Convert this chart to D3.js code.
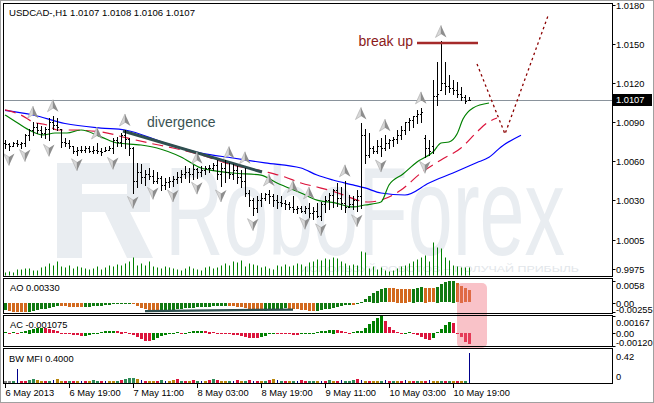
<!DOCTYPE html>
<html><head><meta charset="utf-8">
<script src="https://cdn.jsdelivr.net/npm/d3@7"></script>
<style>body{margin:0;background:#fff}svg{display:block}text{font-family:"Liberation Sans",Arial,sans-serif}</style>
</head><body><svg id="c" width="654" height="403"></svg>
<script>
// ---------------- DATA ----------------
const symbolTitle = "USDCAD-,H1  1.0107 1.0108 1.0106 1.0107";
const startTime = new Date(2013, 4, 6, 3, 0);
const highs = [1.0076,1.0074,1.0075,1.0076,1.0075,1.0081,1.0085,1.0090,1.0089,1.0087,1.0086,1.0093,1.0095,1.0093,1.0085,1.0078,1.0076,1.0072,1.0071,1.0072,
1.0072,1.0072,1.0072,1.0074,1.0070,1.0071,1.0072,1.0078,1.0079,1.0082,1.0084,1.0078,1.0071,1.0059,1.0058,1.0053,1.0055,1.0053,1.0052,1.0049,
1.0047,1.0048,1.0049,1.0052,1.0053,1.0056,1.0055,1.0057,1.0055,1.0056,1.0056,1.0057,1.0059,1.0061,1.0059,1.0061,1.0059,1.0058,1.0056,1.0053,
1.0055,1.0038,1.0032,1.0033,1.0036,1.0036,1.0038,1.0035,1.0034,1.0033,1.0030,1.0029,1.0033,1.0026,1.0026,1.0026,1.0028,1.0025,1.0028,1.0029,
1.0033,1.0036,1.0039,1.0043,1.0040,1.0045,1.0034,1.0033,1.0038,1.0089,1.0085,1.0082,1.0072,1.0076,1.0078,1.0080,1.0077,1.0079,1.0084,1.0087,
1.0090,1.0093,1.0095,1.0099,1.0101,1.0080,1.0076,1.0122,1.0136,1.0152,1.0136,1.0126,1.0122,1.0121,1.0117,1.0111,1.0109];
const lows = [1.0070,1.0069,1.0072,1.0072,1.0070,1.0072,1.0076,1.0080,1.0082,1.0079,1.0078,1.0076,1.0085,1.0084,1.0071,1.0072,1.0070,1.0066,1.0065,1.0067,
1.0067,1.0067,1.0066,1.0066,1.0065,1.0068,1.0069,1.0066,1.0072,1.0072,1.0070,1.0065,1.0036,1.0040,1.0043,1.0042,1.0046,1.0043,1.0043,1.0038,
1.0039,1.0040,1.0041,1.0043,1.0044,1.0047,1.0044,1.0046,1.0047,1.0049,1.0050,1.0052,1.0053,1.0046,1.0041,1.0044,1.0047,1.0046,1.0043,1.0040,
1.0033,1.0026,1.0019,1.0021,1.0026,1.0030,1.0028,1.0026,1.0024,1.0026,1.0023,1.0023,1.0021,1.0020,1.0021,1.0020,1.0017,1.0016,1.0017,1.0015,
1.0021,1.0023,1.0025,1.0026,1.0023,1.0021,1.0025,1.0023,1.0022,1.0024,1.0059,1.0063,1.0066,1.0066,1.0064,1.0069,1.0070,1.0072,1.0074,1.0077,
1.0081,1.0084,1.0086,1.0089,1.0090,1.0063,1.0065,1.0066,1.0103,1.0115,1.0112,1.0113,1.0112,1.0109,1.0107,1.0105,1.0107];
const opens = [1.0074,1.0073,1.0072,1.0074,1.0073,1.0074,1.0080,1.0084,1.0086,1.0084,1.0082,1.0085,1.0090,1.0088,1.0085,1.0075,1.0074,1.0072,1.0068,1.0069,
1.0069,1.0070,1.0068,1.0069,1.0068,1.0068,1.0069,1.0070,1.0076,1.0075,1.0080,1.0077,1.0070,1.0045,1.0052,1.0048,1.0050,1.0049,1.0045,1.0047,
1.0042,1.0044,1.0045,1.0046,1.0048,1.0050,1.0052,1.0050,1.0054,1.0052,1.0053,1.0055,1.0055,1.0057,1.0050,1.0055,1.0052,1.0050,1.0053,1.0048,
1.0045,1.0036,1.0030,1.0024,1.0030,1.0032,1.0035,1.0033,1.0030,1.0029,1.0028,1.0027,1.0025,1.0023,1.0024,1.0022,1.0024,1.0020,1.0022,1.0018,
1.0027,1.0030,1.0034,1.0038,1.0032,1.0028,1.0025,1.0027,1.0030,1.0033,1.0080,1.0065,1.0070,1.0068,1.0072,1.0070,1.0074,1.0076,1.0077,1.0080,
1.0084,1.0090,1.0092,1.0095,1.0096,1.0078,1.0070,1.0072,1.0110,1.0115,1.0120,1.0118,1.0116,1.0115,1.0112,1.0109,1.0107];
const closes = [1.0073,1.0072,1.0074,1.0073,1.0074,1.0080,1.0084,1.0086,1.0084,1.0082,1.0085,1.0090,1.0088,1.0086,1.0075,1.0074,1.0072,1.0068,1.0069,1.0069,
1.0070,1.0068,1.0069,1.0068,1.0067,1.0069,1.0070,1.0076,1.0075,1.0080,1.0077,1.0070,1.0045,1.0052,1.0048,1.0050,1.0049,1.0045,1.0047,1.0042,
1.0044,1.0045,1.0046,1.0048,1.0050,1.0052,1.0050,1.0054,1.0052,1.0053,1.0055,1.0055,1.0057,1.0050,1.0055,1.0052,1.0050,1.0053,1.0048,1.0045,
1.0036,1.0030,1.0024,1.0030,1.0032,1.0035,1.0033,1.0030,1.0029,1.0028,1.0027,1.0025,1.0023,1.0024,1.0022,1.0024,1.0020,1.0022,1.0018,1.0027,
1.0030,1.0034,1.0038,1.0032,1.0028,1.0025,1.0027,1.0030,1.0033,1.0080,1.0065,1.0070,1.0068,1.0072,1.0070,1.0074,1.0076,1.0077,1.0080,1.0084,
1.0090,1.0092,1.0095,1.0096,1.0098,1.0070,1.0068,1.0110,1.0112,1.0120,1.0118,1.0116,1.0115,1.0112,1.0109,1.0106,1.0107];
const volumes = [300,400,300,600,600,700,700,500,500,800,900,1200,1000,1400,900,800,1000,700,900,800,
700,600,700,900,600,800,1000,900,1100,1000,1200,1400,1800,1000,1200,1000,1400,900,800,700,
900,800,700,600,500,700,900,700,600,500,800,900,700,800,1000,1200,1000,1400,1300,1500,
900,1200,1100,1000,800,900,700,600,1000,900,1100,900,1000,1200,1100,900,1300,1400,1600,1500,
1700,1600,1800,1700,1400,1200,1000,1100,1000,2400,2300,700,900,600,800,500,400,500,700,900,
1000,1200,1400,1600,1800,2000,1400,3300,2800,2700,1800,1500,1000,900,800,800,800];
const currentPrice = 1.0107;
// Alligator lines, sampled [bar, price]
const jawLine = [[0,1.0099],[7,1.00955],[15,1.0089],[24,1.00855],[30,1.0084],[40,1.0074],[49,1.00663],[57,1.00625],[65,1.00587],[74,1.00548],[78,1.00494],[82,1.00456],[87,1.00418],[90,1.00395],[94,1.00356],[100,1.00341],[106,1.00433],[112,1.0051],[118,1.0059],[121,1.0063],[124,1.0071],[129,1.0080]];
const teethLine = [[0,1.00994],[4,1.00955],[7,1.00901],[10.5,1.00878],[13,1.0084],[16,1.0084],[24,1.00825],[30.5,1.00779],[36,1.0074],[42,1.00702],[49,1.00648],[57,1.00571],[65.5,1.00517],[70,1.00479],[74,1.00433],[78,1.00402],[82.5,1.00364],[86,1.00325],[88,1.00302],[91,1.00287],[94,1.00302],[99,1.00379],[104,1.0051],[109,1.0061],[114,1.00702],[118,1.00825],[120.5,1.00894],[123,1.00932]];
const lipsLine = [[0,1.00955],[2,1.00917],[6,1.0084],[9.5,1.00802],[12.5,1.00817],[15.5,1.00817],[19,1.0084],[24,1.00787],[28,1.0074],[34,1.00725],[38,1.00702],[44,1.00633],[49,1.00548],[57,1.0051],[64,1.00494],[68,1.00433],[74,1.00356],[78,1.00302],[82.5,1.0028],[87,1.00249],[90,1.00264],[94,1.00287],[96,1.00418],[99.5,1.00502],[103,1.00594],[107,1.00671],[109,1.0074],[111,1.00748],[113,1.00809],[114.5,1.00924],[117,1.01009],[121,1.01047]];
const upFractals = [7,12,23,30,48,56,60,66,72,76,85,89,95,104,109];
const downFractals = [1,5,11,18,27,32,37,42,48,54,62,75,79,88,94,105];
const divergenceLine = [[29.5,1.00832],[64.25,1.00517]];
const breakLevel = {from:103, to:118.25, price:1.01508};
const projection = [[118,1.01347],[125,1.00809],[135.75,1.01716]];
const priceTicks = [1.0180,1.0150,1.0120,1.0090,1.0060,1.0030,0.99995,0.9977];
const priceTickLabels = ["1.0180","1.0150","1.0120","1.0090","1.0060","1.0030","1.0005","0.9975"];
const timeTickBars = [0,16,32,48,64,80,96,112];
const timeTickLabels = ["6 May 2013","6 May 19:00","7 May 11:00","8 May 03:00","8 May 19:00","9 May 11:00","10 May 03:00","10 May 19:00"];
// Awesome oscillator
const ao = [-0.00186,-0.00211,-0.00229,-0.00242,-0.00248,-0.00254,-0.00242,-0.00223,-0.00198,-0.00174,-0.00149,-0.00124,-0.00099,-0.00081,-0.00087,-0.00093,-0.00099,-0.00105,-0.00112,-0.00118,
-0.00112,-0.00105,-0.00093,-0.00081,-0.00068,-0.00056,-0.00043,-0.00031,-0.00025,-0.00019,-0.00012,-0.00006,-0.00037,-0.00087,-0.00130,-0.00174,-0.00211,-0.00236,-0.00254,-0.00242,
-0.00223,-0.00205,-0.00186,-0.00167,-0.00155,-0.00143,-0.00130,-0.00124,-0.00118,-0.00112,-0.00105,-0.00099,-0.00093,-0.00087,-0.00081,-0.00074,-0.00081,-0.00093,-0.00105,-0.00118,
-0.00136,-0.00155,-0.00174,-0.00192,-0.00211,-0.00205,-0.00192,-0.00180,-0.00167,-0.00155,-0.00143,-0.00149,-0.00161,-0.00174,-0.00186,-0.00198,-0.00211,-0.00217,-0.00205,-0.00186,
-0.00167,-0.00149,-0.00124,-0.00099,-0.00074,-0.00056,-0.00043,-0.00050,-0.00037,0.00010,0.00090,0.00170,0.00260,0.00320,0.00360,0.00390,0.00385,0.00380,0.00375,0.00370,
0.00365,0.00360,0.00370,0.00390,0.00410,0.00400,0.00390,0.00380,0.00430,0.00490,0.00540,0.00570,0.00580,0.00520,0.00450,0.00390,0.00330];
const aoDivergence = [[35,-0.00229],[72,-0.00190]];
const aoTicks = [0.0058,0,-0.00255];
const aoTickLabels = ["0.0058","0.00","-0.00255"];
// Accelerator oscillator
const ac = [0.00012,0.00006,0.00012,0.00006,0.00012,0.00023,0.00035,0.00041,0.00046,0.00052,0.00046,0.00041,0.00029,0.00017,0.00006,-0.00006,-0.00012,-0.00017,-0.00023,-0.00029,
-0.00029,-0.00017,-0.00006,0.00006,0.00012,0.00017,0.00018,0.00023,0.00017,0.00016,0.00012,0.00006,-0.00015,-0.00040,-0.00060,-0.00075,-0.00080,-0.00070,-0.00050,-0.00030,
-0.00015,-0.00004,0.00006,0.00007,0.00000,0.00006,0.00012,0.00017,0.00023,0.00024,0.00017,0.00016,0.00012,0.00006,0.00000,-0.00006,-0.00012,-0.00017,-0.00023,-0.00029,
-0.00035,-0.00045,-0.00050,-0.00052,-0.00040,-0.00025,-0.00010,0.00000,-0.00006,-0.00012,-0.00013,-0.00014,-0.00017,-0.00018,-0.00012,-0.00006,0.00000,0.00006,0.00012,0.00017,
0.00023,0.00029,0.00035,0.00029,0.00023,0.00012,0.00006,0.00012,0.00017,0.00020,0.00050,0.00090,0.00120,0.00150,0.00165,0.00120,0.00060,0.00030,0.00010,-0.00010,
0.00000,0.00010,-0.00010,-0.00020,-0.00040,-0.00060,-0.00070,-0.00050,0.00010,0.00040,0.00080,0.00110,0.00100,0.00000,-0.00040,-0.00090,-0.001075];
const acTicks = [0.00167,0,-0.00120];
const acTickLabels = ["0.00167","0.00","-0.00120"];
// BW Market Facilitation Index
const mfi = [0.03,0.02,0.02,0.18,0.02,0.03,0.04,0.05,0.04,0.03,0.02,0.03,0.04,0.05,0.02,0.02,0.03,0.02,0.02,0.03,
0.02,0.03,0.04,0.02,0.02,0.03,0.02,0.03,0.02,0.04,0.05,0.06,0.07,0.05,0.04,0.03,0.02,0.03,0.02,0.04,
0.02,0.03,0.04,0.05,0.03,0.02,0.03,0.04,0.02,0.03,0.02,0.04,0.05,0.04,0.03,0.02,0.02,0.03,0.04,0.02,
0.03,0.04,0.03,0.02,0.02,0.03,0.04,0.05,0.04,0.03,0.02,0.03,0.02,0.03,0.04,0.02,0.03,0.02,0.03,0.02,
0.03,0.04,0.02,0.03,0.04,0.03,0.02,0.04,0.05,0.04,0.03,0.02,0.03,0.02,0.03,0.04,0.02,0.03,0.02,0.03,
0.04,0.03,0.02,0.03,0.02,0.03,0.04,0.02,0.03,0.02,0.03,0.02,0.03,0.02,0.03,0.02,0.40];
// x gray, g green, f fade(brown), s squat(pink), b fake(blue)
const mfiType = ("xxgbssggff"+"sgbffsgsfb"+"sfggsbffgs"+"gggfbsffsg"+"bffsgsfsgb"+"fsgsffgbsf"+
  "gsbsfgsfbg"+"sfgbssggfb"+"sgfsbgggsb"+"fsffgbsgfs"+"bfsgfsbffg"+"sgfsfgb").split("");
const mfiTicks = [0.42,0];
const mfiTickLabels = ["0.42","0"];
const aoLabel = "AO 0.00330", acLabel = "AC -0.001075", mfiLabel = "BW MFI 0.4000";

// ---------------- LAYOUT ----------------
const svg = d3.select("#c");
const PL = 3.5, PR = 612.5;
const panels = {main:[3.5,276.5], ao:[278.5,313.5], ac:[315.5,346.5], mfi:[348.5,383.5]};
const x = d3.scaleLinear().domain([0,151.75]).range([5,612]);
const xp = i => Math.round(x(i)) + 0.5;
const y = d3.scaleLinear().domain([0.99719,1.01815]).range([276,3]);
const yVol = d3.scaleLinear().domain([0,3500]).range([275.5,240.5]);
const yAO = d3.scaleLinear().domain([-0.00255,0.0058]).range([312,281]);
const yAC = d3.scaleLinear().domain([-0.0012,0.00167]).range([345.5,316]);
const yMFI = d3.scaleLinear().domain([0,0.42]).range([383,351]);
const n = highs.length;
const times = d3.range(n).map(i => d3.timeHour.offset(startTime, i));
const FS = 9.3;

svg.append("rect").attr("width",654).attr("height",403).attr("fill","#fff");

const defs = svg.append("defs");
defs.append("clipPath").attr("id","mainClip").append("rect").attr("x",PL).attr("y",panels.main[0]).attr("width",PR-PL).attr("height",panels.main[1]-panels.main[0]);
const main = svg.append("g").attr("clip-path","url(#mainClip)");

// watermark
const wm = main.append("g").attr("fill","#e9edf1");
wm.append("path").attr("fill-rule","evenodd")
  .attr("d","M57,163 H150 V212 H130 L153,258 H127 L105,212 H82 V258 H57 Z M82,184 H127 V194 H82 Z");
wm.append("text").attr("transform","translate(165,255) scale(1,1.55)").attr("font-size",81).attr("textLength",400).attr("lengthAdjust","spacingAndGlyphs").text("RoboForex");
wm.append("text").attr("x",300).attr("y",272).attr("font-size",9).attr("fill","#e2e6ea").attr("textLength",279).attr("lengthAdjust","spacingAndGlyphs").text("ИСПОЛЬЗУЙ РОБОТОВ – ПОЛУЧАЙ ПРИБЫЛЬ");

// volumes
main.append("g").selectAll("line").data(volumes).join("line")
  .attr("x1",(d,i)=>xp(i)).attr("x2",(d,i)=>xp(i))
  .attr("y1",yVol(0)).attr("y2",d=>yVol(d)).attr("stroke","#008000");

// current price line
const cpy = Math.round(y(currentPrice))+0.5;
main.append("line").attr("x1",PL).attr("x2",PR).attr("y1",cpy).attr("y2",cpy).attr("stroke","#8a939c");

// alligator
const line = d3.line().x(d=>x(d[0])).y(d=>y(d[1])).curve(d3.curveMonotoneX);
main.append("path").attr("d",line(jawLine)).attr("fill","none").attr("stroke","#0000ff").attr("stroke-width",1.2);
main.append("path").attr("d",line(teethLine)).attr("fill","none").attr("stroke","#dc143c").attr("stroke-width",1.2).attr("stroke-dasharray","11,6");
main.append("path").attr("d",line(lipsLine)).attr("fill","none").attr("stroke","#008000").attr("stroke-width",1.2);

// divergence line
const straight = d3.line().x(d=>x(d[0])).y(d=>y(d[1]));
main.append("path").attr("d",straight(divergenceLine)).attr("stroke","#2f4f4f").attr("stroke-width",3).attr("fill","none");

// price bars
const bars = main.append("g").attr("stroke","#000").attr("stroke-width",1).attr("fill","none");
bars.selectAll("path").data(d3.range(n)).join("path")
  .attr("d", i => {
    const xi = xp(i), yh = Math.round(y(highs[i])), yl = Math.round(y(lows[i]));
    const yo = Math.round(y(opens[i]))+0.5, yc = Math.round(y(closes[i]))+0.5;
    return `M${xi},${yh} V${yl+1} M${xi-1.5},${yo} H${xi} M${xi},${yc} H${xi+1.5}`;
  });

// fractals
const fr = main.append("g");
function arrow(cx, cy, up){
  const s = up ? 1 : -1;
  fr.append("path").attr("d",`M${cx},${cy-6*s} L${cx-5.5},${cy+6*s} L${cx},${cy+2.5*s} Z`).attr("fill","#d8d8d8").attr("stroke","#a8a8a8").attr("stroke-width",0.6);
  fr.append("path").attr("d",`M${cx},${cy-6*s} L${cx+5.5},${cy+6*s} L${cx},${cy+2.5*s} Z`).attr("fill","#8e8e8e");
}
upFractals.forEach(i => arrow(x(i), y(highs[i]) - 10, true));
downFractals.forEach(i => arrow(x(i), y(lows[i]) + 10, false));

// break up
main.append("line").attr("x1",x(breakLevel.from)).attr("x2",x(breakLevel.to)).attr("y1",y(breakLevel.price)).attr("y2",y(breakLevel.price)).attr("stroke","#a52a2a").attr("stroke-width",2.5);
main.append("text").attr("x",x(breakLevel.from)-4).attr("y",y(breakLevel.price)+3).attr("text-anchor","end").attr("font-size",14).attr("fill","#8b1a1a").text("break up");
main.append("path").attr("d",straight(projection)).attr("fill","none").attr("stroke","#8b0000").attr("stroke-width",1.3).attr("stroke-dasharray","2.5,3");
main.append("text").attr("x",147).attr("y",127).attr("font-size",14).attr("fill","#3a5252").text("divergence");

// title
svg.append("text").attr("x",9).attr("y",16).attr("font-size",FS).attr("textLength",186).attr("lengthAdjust","spacingAndGlyphs").text(symbolTitle);

// ---------- AO ----------
const w = 3;
svg.append("g").selectAll("rect").data(ao).join("rect")
  .attr("x",(d,i)=>Math.round(x(i))-1).attr("width",w)
  .attr("y",d=>Math.round(Math.min(yAO(d),yAO(0)))).attr("height",d=>Math.max(1,Math.round(Math.abs(yAO(d)-yAO(0)))))
  .attr("fill",(d,i)=> i>0 && d < ao[i-1] ? "#d2691e" : "#117a11");
svg.append("path").attr("d",d3.line().x(d=>x(d[0])).y(d=>yAO(d[1]))(aoDivergence)).attr("stroke","#2f4f4f").attr("stroke-width",2.2);
svg.append("text").attr("x",10).attr("y",291).attr("font-size",FS).text(aoLabel);

// ---------- AC ----------
svg.append("g").selectAll("rect").data(ac).join("rect")
  .attr("x",(d,i)=>Math.round(x(i))-1).attr("width",w)
  .attr("y",d=>Math.round(Math.min(yAC(d),yAC(0)))).attr("height",d=>Math.max(1,Math.round(Math.abs(yAC(d)-yAC(0)))))
  .attr("fill",(d,i)=> i>0 && d < ac[i-1] ? "#dc143c" : "#008000");
svg.append("text").attr("x",10).attr("y",328).attr("font-size",FS).text(acLabel);

// ---------- MFI ----------
const mfiColor = {g:"#2e8b57", f:"#b8860b", s:"#dc143c", b:"#00008b", x:"#808080"};
svg.append("g").selectAll("rect").data(mfi).join("rect")
  .attr("x",(d,i)=> mfiType[i]==="b" ? Math.round(x(i)) : Math.round(x(i))-1)
  .attr("width",(d,i)=> mfiType[i]==="b" ? 1 : w)
  .attr("y",d=>Math.round(yMFI(d))).attr("height",d=>Math.max(1,Math.round(yMFI(0)-yMFI(d))))
  .attr("fill",(d,i)=>mfiColor[mfiType[i]] || "#00008b");
svg.append("text").attr("x",9).attr("y",362).attr("font-size",FS).text(mfiLabel);

// pink highlight
svg.append("rect").attr("x",x(113)).attr("y",283).attr("width",30).attr("height",65).attr("rx",5)
  .attr("fill","rgba(240,110,125,0.42)");

// panel frames
Object.values(panels).forEach(([t,b]) => {
  svg.append("rect").attr("x",PL).attr("y",t).attr("width",PR-PL).attr("height",b-t).attr("fill","none").attr("stroke","#000");
});
svg.append("rect").attr("x",0.5).attr("y",0.5).attr("width",653).attr("height",402).attr("fill","none").attr("stroke","#a0a0a0");

// right axes
function rightAxis(scale, ticks, labels, dys){
  const g = svg.append("g");
  ticks.forEach((v,k)=>{
    const yy = Math.round(scale(v))+0.5;
    g.append("line").attr("x1",PR).attr("x2",PR+3).attr("y1",yy).attr("y2",yy).attr("stroke","#000");
    g.append("text").attr("x",616).attr("y",yy + (dys ? dys[k] : 0)).attr("dy","0.35em").attr("font-size",FS).text(labels[k]);
  });
}
rightAxis(y, priceTicks, priceTickLabels);
rightAxis(yAO, aoTicks, aoTickLabels, [4,0,-3]);
rightAxis(yAC, acTicks, acTickLabels, [6,0,-4]);
mfiTicks.forEach((v,k)=>{
  const yy = yMFI(v);
  svg.append("text").attr("x",616).attr("y", k===0 ? yy+9 : yy-3).attr("font-size",FS).text(mfiTickLabels[k]);
});
// current price label
const cy = Math.round(y(currentPrice));
svg.append("rect").attr("x",613).attr("y",cy-6).attr("width",39).attr("height",12).attr("fill","#000");
svg.append("text").attr("x",616).attr("y",cy).attr("dy","0.35em").attr("font-size",FS).attr("fill","#fff").text(currentPrice.toFixed(4));

// time axis
timeTickBars.forEach((b,k)=>{
  const xx = xp(b);
  svg.append("line").attr("x1",xx).attr("x2",xx).attr("y1",384).attr("y2",388).attr("stroke","#000");
  svg.append("text").attr("x",xx).attr("y",396).attr("font-size",FS).text(timeTickLabels[k]);
});
</script></body></html>
